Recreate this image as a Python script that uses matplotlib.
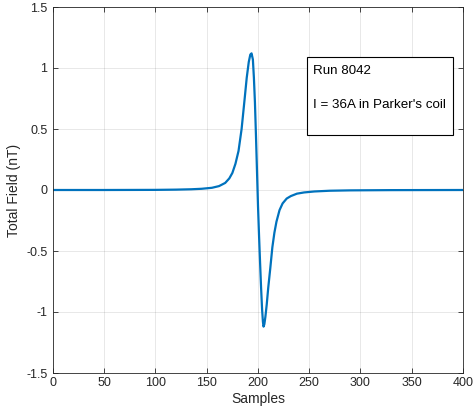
import matplotlib.pyplot as plt
from matplotlib.patches import Rectangle

plt.rcParams['font.family'] = ['Liberation Sans', 'DejaVu Sans']

# Field trace read out sample by sample (nT)
samples = [0, 50, 100, 120, 135, 145, 155, 162, 168, 172, 175, 178, 181,
           184, 187, 189, 191, 192.5, 193.7, 195, 196, 197, 198, 199,
           200, 201, 202, 203, 204, 204.8, 205.4, 206.2, 207.2, 208.5,
           210, 212, 214, 216, 218, 221, 224, 228, 232, 238, 245, 255,
           270, 290, 330, 400]
field = [0, 0, 0.001, 0.003, 0.006, 0.010, 0.018, 0.032, 0.058, 0.095,
         0.14, 0.215, 0.32, 0.50, 0.75, 0.92, 1.05, 1.11, 1.12, 1.07,
         0.92, 0.72, 0.45, 0.16, -0.13, -0.37, -0.59, -0.80, -0.98, -1.08,
         -1.12, -1.10, -1.04, -0.94, -0.80, -0.64, -0.47, -0.35, -0.26,
         -0.165, -0.11, -0.07, -0.05, -0.03, -0.02, -0.012, -0.006,
         -0.003, -0.001, 0]

xticks = list(range(0, 401, 50))
yticks = [-1.5, -1, -0.5, 0, 0.5, 1, 1.5]
ytick_labels = ['-1.5', '-1', '-0.5', '0', '0.5', '1', '1.5']

axis_color = '#262626'

fig = plt.figure(figsize=(4.77, 4.17), dpi=100)
ax = fig.add_axes([53 / 477, 44 / 417, 410 / 477, 366 / 417])

ax.plot(samples, field, color='#0072BD', linewidth=1.6)

ax.set_xlim(0, 400)
ax.set_ylim(-1.5, 1.5)
ax.set_xticks(xticks)
ax.set_yticks(yticks)
ax.set_yticklabels(ytick_labels)

ax.grid(True, color=axis_color, alpha=0.15, linewidth=0.5)
ax.set_axisbelow(True)
for side in ax.spines.values():
    side.set_color(axis_color)
    side.set_linewidth(0.6)
ax.tick_params(direction='in', length=3.5, width=0.6, colors=axis_color,
               labelsize=9, top=True, right=True)
ax.tick_params(axis='x', pad=3)
ax.tick_params(axis='y', pad=4)

ax.set_xlabel('Samples', fontsize=10, color=axis_color, labelpad=2)
ax.set_ylabel('Total Field (nT)', fontsize=10, color=axis_color, labelpad=4)

# Annotation box with run info
ax.add_patch(Rectangle((0.6195, 0.6503), 0.3561, 0.2131,
                       transform=ax.transAxes, facecolor='white',
                       edgecolor='black', linewidth=0.8, zorder=3))
ax.text(0.635, 0.826, 'Run 8042', transform=ax.transAxes,
        fontsize=9.6, color='black', ha='left', va='center', zorder=4)
ax.text(0.635, 0.732, "I = 36A in Parker's coil", transform=ax.transAxes,
        fontsize=9.6, color='black', ha='left', va='center', zorder=4)

fig.savefig('out.png', dpi=100)
